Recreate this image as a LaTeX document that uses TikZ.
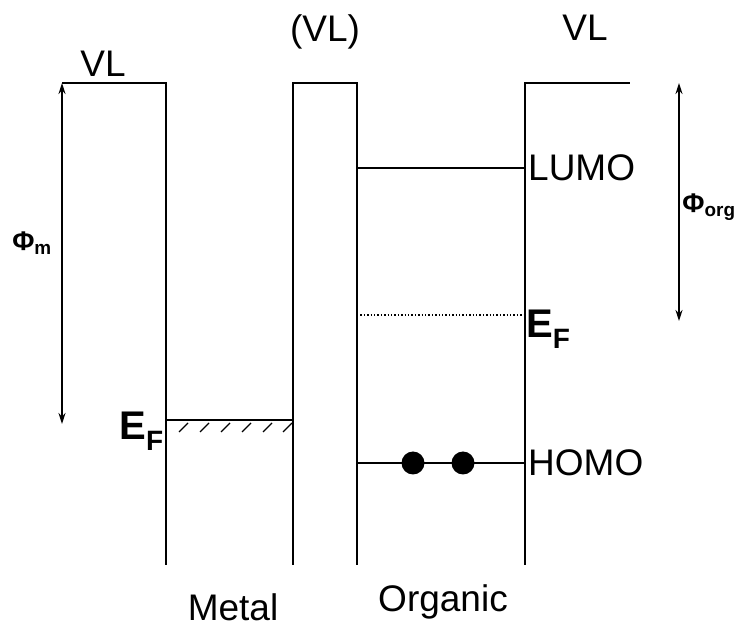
\documentclass[tikz,border=0pt]{standalone}
\usepackage{fontspec}
\setmainfont{Liberation Sans}
\usetikzlibrary{arrows.meta}
\begin{document}
\begin{tikzpicture}[x=1pt,y=-1pt,
  wall/.style={line width=2pt},
  lvl/.style={line width=1.6pt},
  lab/.style={font=\fontsize{37}{37}\selectfont, inner sep=0pt},
  bold/.style={font=\fontsize{40}{40}\selectfont\bfseries, inner sep=0pt},
  phi/.style={font=\fontsize{27}{27}\selectfont\bfseries, inner sep=0pt},
  dim/.style={line width=1.6pt, {Stealth[length=11pt,width=7pt]}-{Stealth[length=11pt,width=7pt]}},
  electron/.style={circle, fill=black, minimum size=23pt, inner sep=0pt}]
\useasboundingbox (0,0) rectangle (740,636);
% metal
\coordinate (mvl) at (62,83);
\coordinate (mtop) at (166,83);
\coordinate (mbot) at (166,565);
\draw[wall] (mvl) -- (mtop) -- (mbot);
% barrier
\coordinate (bl) at (293,565);
\coordinate (br) at (357,565);
\draw[wall] (bl) -- (293,83) -- (357,83) -- (br);
% organic wall
\coordinate (obot) at (525,565);
\coordinate (ovl) at (630,83);
\draw[wall] (obot) -- (525,83) -- (ovl);
% levels
\draw[lvl] (357,168) -- (525,168);
\draw[line width=1.4pt, dotted] (357,315) -- (525,315);
\draw[lvl] (357,463) -- (525,463);
\draw[lvl] (166,420) -- (293,420);
\foreach \x in {179,200,221,242,263,283}
  \draw[line width=1.3pt] (\x,432) -- (\x+9,423);
\node[electron] (e1) at (413,463) {};
\node[electron] (e2) at (463,463) {};
% arrows
\coordinate (pm1) at (62,83);
\coordinate (pm2) at (62,424);
\draw[dim] (pm1) -- (pm2);
\coordinate (po1) at (679,83);
\coordinate (po2) at (679,321);
\draw[dim] (po1) -- (po2);
% labels
\node[lab] (vl1) at (103,64) {VL};
\node[lab] (vl2) at (325,32) {(VL)};
\node[lab] (vl3) at (585,28) {VL};
\node[lab, anchor=west] (lumo) at (528,168) {LUMO};
\node[lab, anchor=west] (homo) at (528,463) {HOMO};
\node[bold, anchor=west] (efo) at (526,329) {E\textsubscript{F}};
\node[bold, anchor=east] (efm) at (164,431) {E\textsubscript{F}};
\node[phi] (phim) at (32,243) {Φ\textsubscript{m}};
\node[phi] (phio) at (709,207) {Φ\textsubscript{org}};
\node[lab] (metal) at (233,607) {Metal};
\node[lab] (org) at (443,602) {Organic};
\end{tikzpicture}
\end{document}
